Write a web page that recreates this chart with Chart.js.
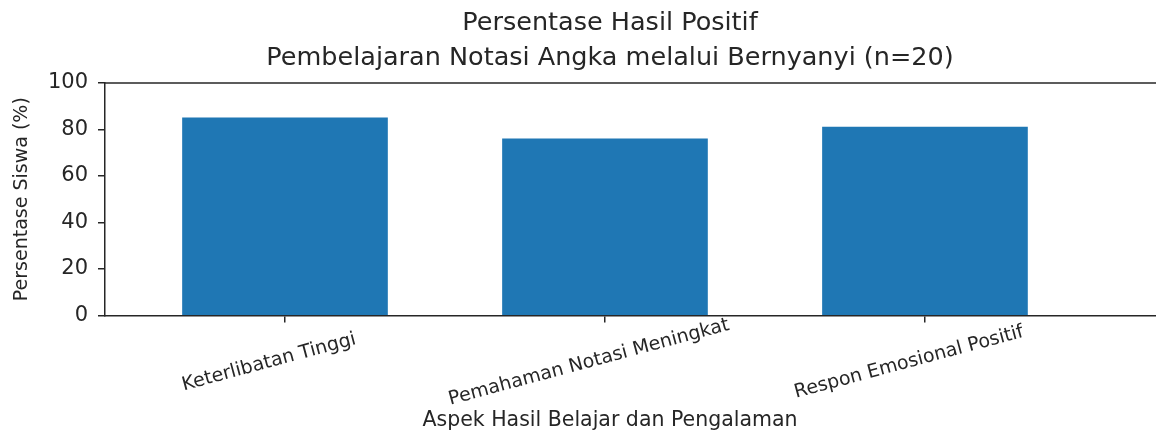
<!DOCTYPE html>
<html>
<head>
<meta charset="utf-8">
<script src="https://cdn.jsdelivr.net/npm/chart.js@4.4.1/dist/chart.umd.min.js"></script>
<style>
  html, body { margin: 0; padding: 0; background: #ffffff; overflow: hidden; }
  #wrap { width: 1220px; height: 435px; }
</style>
</head>
<body>
<div id="wrap"><canvas id="c" width="1220" height="435"></canvas></div>
<script>
// ---- data ----
const categories = ['Keterlibatan Tinggi', 'Pemahaman Notasi Meningkat', 'Respon Emosional Positif'];
const values = [85, 76, 81];
const yTicks = [0, 20, 40, 60, 80, 100];
const titleLines = ['Persentase Hasil Positif', 'Pembelajaran Notasi Angka melalui Bernyanyi (n=20)'];
const xTitle = 'Aspek Hasil Belajar dan Pengalaman';
const yTitle = 'Persentase Siswa (%)';

const TEXT = '#262626';
const FONT = 'DejaVu Sans';
Chart.defaults.font.family = FONT;
Chart.defaults.color = TEXT;

const decor = {
  id: 'decor',
  afterDraw(chart) {
    const { ctx, chartArea, scales } = chart;
    const x = scales.x;
    ctx.save();
    // top spine
    ctx.strokeStyle = TEXT;
    ctx.lineWidth = 1.5;
    ctx.beginPath();
    ctx.moveTo(chartArea.left, chartArea.top);
    ctx.lineTo(chartArea.right, chartArea.top);
    ctx.stroke();
    // rotated x tick labels, centred under their ticks
    ctx.fillStyle = TEXT;
    ctx.font = '19px "' + FONT + '"';
    ctx.textAlign = 'center';
    ctx.textBaseline = 'middle';
    x.ticks.forEach((t, i) => {
      const px = x.getPixelForTick(i);
      ctx.save();
      ctx.translate(px - 16, chartArea.bottom + 47);
      ctx.rotate(-15 * Math.PI / 180);
      ctx.fillText(categories[t.value], 0, 0);
      ctx.restore();
    });
    ctx.restore();
  }
};

new Chart(document.getElementById('c'), {
  type: 'bar',
  data: {
    datasets: [{
      data: categories.map((c, i) => ({ x: i, y: values[i] })),
      backgroundColor: '#1f77b4',
      borderWidth: 0,
      barThickness: 205
    }]
  },
  options: {
    responsive: false,
    animation: false,
    devicePixelRatio: 1,
    layout: { padding: 0 },
    plugins: {
      legend: { display: false },
      tooltip: { enabled: false },
      title: {
        display: true,
        text: titleLines,
        color: TEXT,
        font: { family: FONT, size: 25.5, weight: 'normal', lineHeight: 1.37 },
        padding: { top: 5.5, bottom: 7.6 }
      },
      subtitle: {
        display: true,
        position: 'bottom',
        text: xTitle,
        color: TEXT,
        font: { family: FONT, size: 20.5, weight: 'normal', lineHeight: 1.2 },
        padding: { top: 0, bottom: 2 }
      }
    },
    scales: {
      x: {
        type: 'linear',
        min: -0.5625,
        max: 2.922,
        offset: false,
        afterBuildTicks: s => { s.ticks = categories.map((c, i) => ({ value: i })); },
        afterFit: s => { s.height = 93; },
        ticks: { display: false, callback: v => categories[v] },
        grid: { display: true, offset: false, drawOnChartArea: false, drawTicks: true, tickLength: 7, color: TEXT, lineWidth: 1.5 },
        border: { display: true, color: TEXT, width: 1.5 }
      },
      y: {
        min: 0,
        max: 100,
        afterBuildTicks: s => { s.ticks = yTicks.map(v => ({ value: v })); },
        afterFit: s => { s.width = 105; },
        ticks: { color: TEXT, font: { family: FONT, size: 21 }, padding: 10 },
        grid: { display: true, drawOnChartArea: false, drawTicks: true, tickLength: 7, color: TEXT, lineWidth: 1.5 },
        border: { display: true, color: TEXT, width: 1.5 },
        title: {
          display: true,
          text: yTitle,
          color: TEXT,
          font: { family: FONT, size: 19, weight: 'normal', lineHeight: 1.2 },
          padding: { top: 11, bottom: 0 }
        }
      }
    }
  },
  plugins: [decor]
});
</script>
</body>
</html>
